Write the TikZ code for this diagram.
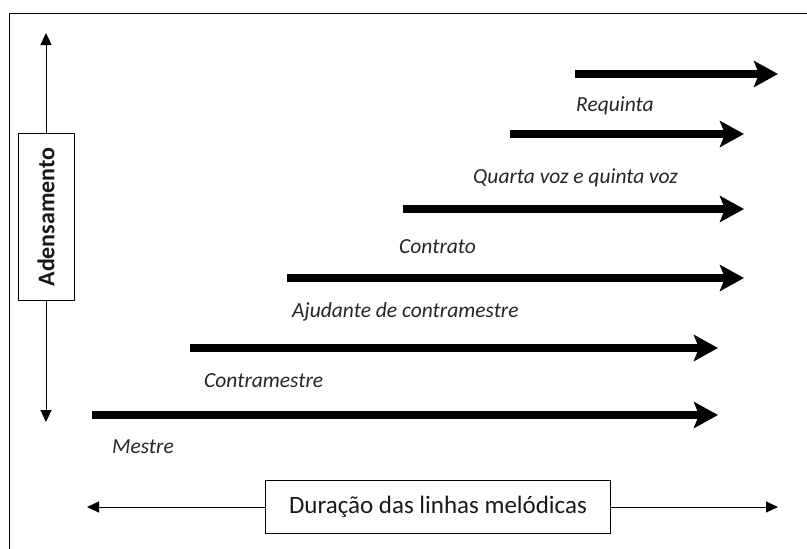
\documentclass[tikz,border=0pt]{standalone}
\usepackage{fontspec}
\setmainfont{Carlito}
\usetikzlibrary{arrows.meta}
\begin{document}
\begin{tikzpicture}[x=1pt,y=-1pt,
  voice/.style={line width=8pt,-{Stealth[length=24pt,width=26pt,inset=5pt]}},
  axisarrow/.style={line width=1pt,-{Triangle[length=12pt,width=11pt]}},
  lbl/.style={anchor=west,inner sep=0pt,font=\fontsize{21.5}{25}\selectfont\itshape,text=black!85},
  boxnode/.style={draw,line width=1pt,inner sep=0pt,text=black!90}]
\useasboundingbox (0,0) rectangle (807,549);
\begin{scope}
  \clip (0,0) rectangle (807,549);
  \draw[line width=1pt] (9,13) rectangle (830,580);
\end{scope}
% vertical axis
\node[boxnode,rotate=90,minimum width=167pt,minimum height=56pt,font=\fontsize{24}{28}\selectfont\bfseries] (ad) at (46,217) {Adensamento};
\coordinate (vt) at (46,33);
\coordinate (vb) at (46,422);
\draw[axisarrow] (ad) -- (vt);
\draw[axisarrow] (ad) -- (vb);
% horizontal axis
\node[boxnode,minimum width=345pt,minimum height=53pt,font=\fontsize{25}{29}\selectfont] (du) at (438,507) {Duração das linhas melódicas};
\coordinate (hl) at (87,507);
\coordinate (hr) at (778,507);
\draw[axisarrow] (du) -- (hl);
\draw[axisarrow] (du) -- (hr);
% voices
\coordinate (a1) at (575,74);  \coordinate (b1) at (778,74);
\coordinate (a2) at (510,134); \coordinate (b2) at (744,134);
\coordinate (a3) at (403,209); \coordinate (b3) at (744,209);
\coordinate (a4) at (287,278); \coordinate (b4) at (744,278);
\coordinate (a5) at (190,348); \coordinate (b5) at (718,348);
\coordinate (a6) at (92,415);  \coordinate (b6) at (718,415);
\draw[voice] (a1) -- (b1);
\draw[voice] (a2) -- (b2);
\draw[voice] (a3) -- (b3);
\draw[voice] (a4) -- (b4);
\draw[voice] (a5) -- (b5);
\draw[voice] (a6) -- (b6);
\node[lbl] (l1) at (576,106) {Requinta};
\node[lbl] (l2) at (473,178) {Quarta voz e quinta voz};
\node[lbl] (l3) at (399,247) {Contrato};
\node[lbl] (l4) at (292,312) {Ajudante de contramestre};
\node[lbl] (l5) at (204,381) {Contramestre};
\node[lbl] (l6) at (112,447) {Mestre};
\end{tikzpicture}
\end{document}
